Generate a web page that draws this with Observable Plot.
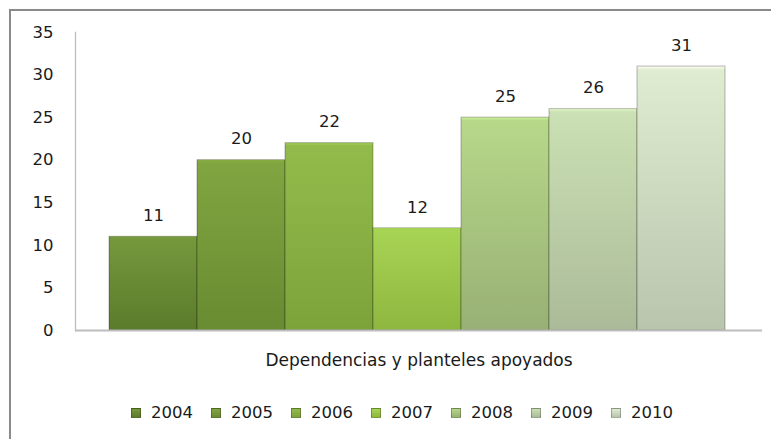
<!DOCTYPE html>
<html>
<head>
<meta charset="utf-8">
<script src="https://cdn.jsdelivr.net/npm/d3@7"></script>
<script src="https://cdn.jsdelivr.net/npm/@observablehq/plot@0.6"></script>
<style>
  html, body { margin: 0; padding: 0; background: #fff; overflow: hidden; }
  #wrap { position: relative; width: 771px; height: 439px; font-family: "DejaVu Sans", sans-serif; }
  #border { position: absolute; left: 9px; top: 9px; width: 800px; height: 500px; border: 2px solid #8a8a8a; box-sizing: border-box; pointer-events: none; }
  #chart { position: absolute; left: 0; top: 0; }
  #legend { position: absolute; left: 131px; top: 403px; display: flex; font-size: 16.5px; color: #1a1a1a; }
  #legend .item { display: flex; align-items: center; width: 80px; }
  #legend .sw { width: 10px; height: 10px; margin-right: 10px; box-sizing: border-box; border: 1px solid rgba(0,0,0,0.25); }
</style>
</head>
<body>
<div id="wrap">
  <div id="chart"></div>
  <div id="legend"></div>
  <div id="border"></div>
</div>
<script>
const years = ["2004", "2005", "2006", "2007", "2008", "2009", "2010"];
const values = [11, 20, 22, 12, 25, 26, 31];
const yTicks = [0, 5, 10, 15, 20, 25, 30, 35];
const axisTitle = "Dependencias y planteles apoyados";
const topColors = ["#76983c", "#81a541", "#93bb4b", "#a8d455", "#b7d889", "#cbe0b4", "#dfecd1"];
const bottomColors = ["#5b7b2c", "#698b31", "#7ba33a", "#8db73f", "#98b075", "#abbb99", "#b9c5ac"];

const data = years.map((year, i) => ({year, value: values[i], grad: `url(#grad${year})`}));

const chart = Plot.plot({
  width: 771,
  height: 439,
  marginTop: 32,
  marginBottom: 109,
  marginLeft: 75,
  marginRight: 9,
  style: {fontFamily: "DejaVu Sans, sans-serif", fontSize: "16.5px", color: "#1a1a1a", background: "transparent"},
  x: {type: "band", domain: years, range: [106, 727], padding: 0, axis: null},
  y: {domain: [0, 35], ticks: yTicks, axis: null, label: null},
  marks: [
    Plot.frame({anchor: "left", stroke: "#bdbdbd", strokeWidth: 1.3}),
    Plot.barY(data, {x: "year", y: "value", fill: "grad", stroke: "#000", strokeOpacity: 0.28, strokeWidth: 1, inset: 0}),
    Plot.ruleY([0], {stroke: "#bdbdbd", strokeWidth: 2}),
    Plot.axisY({ticks: yTicks, tickSize: 0, tickPadding: 22, tickFormat: d => d, label: null, fontSize: 16.5, fill: "#1a1a1a"}),
    Plot.text(data, {x: "year", y: "value", text: d => String(d.value), dy: -21, fill: "#1a1a1a", fontSize: 16.5}),
    Plot.text([axisTitle], {frameAnchor: "bottom", dy: 35, text: d => d, fill: "#1a1a1a", fontSize: 17})
  ]
});

const svg = d3.select(chart);
const defs = svg.insert("defs", ":first-child");
years.forEach((year, i) => {
  const g = defs.append("linearGradient").attr("id", `grad${year}`).attr("x1", 0).attr("y1", 0).attr("x2", 0).attr("y2", 1);
  g.append("stop").attr("offset", "0%").attr("stop-color", d3.color(topColors[i]).brighter(0.35));
  g.append("stop").attr("offset", "1.5%").attr("stop-color", topColors[i]);
  g.append("stop").attr("offset", "100%").attr("stop-color", bottomColors[i]);
});
document.getElementById("chart").appendChild(chart);

const legend = d3.select("#legend");
years.forEach((year, i) => {
  const item = legend.append("div").attr("class", "item");
  item.append("div").attr("class", "sw").style("background", `linear-gradient(${topColors[i]}, ${bottomColors[i]})`);
  item.append("span").text(year);
});
</script>
</body>
</html>
